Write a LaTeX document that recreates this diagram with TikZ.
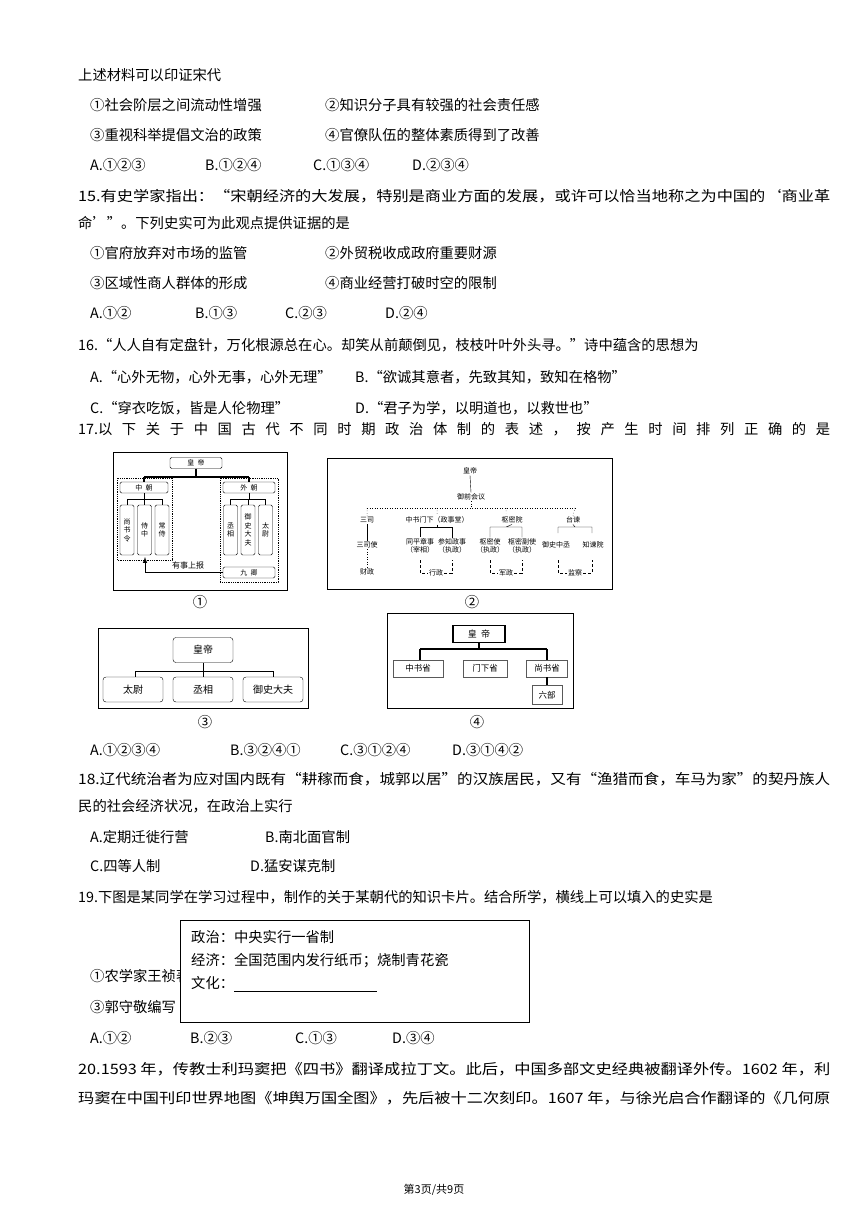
\documentclass[tikz,border=0pt]{standalone}
\usepackage{fontspec}
\usepackage{graphicx}
\setmainfont{Noto Sans CJK SC}
\newcommand{\fullline}[1]{\resizebox{752pt}{\height}{#1}}
\begin{document}
\begin{tikzpicture}[x=1pt,y=-1pt,
  txt/.style={anchor=base west,inner sep=0pt,font=\fontsize{14.3}{16}\selectfont},
  sm/.style={inner sep=1pt,font=\fontsize{7}{8}\selectfont,align=center},
  vb/.style={draw,rounded corners=1.5pt,minimum width=14pt,minimum height=50pt,inner sep=0pt,font=\fontsize{7}{8.5}\selectfont,align=center},
  hb/.style={draw,rounded corners=1.5pt,minimum width=48pt,minimum height=11pt,inner sep=0pt,font=\fontsize{7}{8}\selectfont},
  rb/.style={draw,rounded corners=3pt,minimum width=60pt,minimum height=25pt,inner sep=0pt,font=\fontsize{10}{12}\selectfont},
  sb/.style={draw,gray!70!black,minimum height=17pt,inner sep=2pt,font=\fontsize{8.5}{10}\selectfont,text=black},
  frame/.style={draw,line width=0.8pt},
  dotl/.style={dotted,line width=0.5pt},
  dashl/.style={densely dashed,line width=0.4pt}]
\useasboundingbox (0,0) rectangle (868,1227);
\fill[white] (0,0) rectangle (868,1227);
% text lines
\node[txt] (l1) at (78,80) {上述材料可以印证宋代};
\node[txt] (l2a) at (90,110) {①社会阶层之间流动性增强};
\node[txt] (l2b) at (325,110) {②知识分子具有较强的社会责任感};
\node[txt] (l3a) at (90,140) {③重视科举提倡文治的政策};
\node[txt] (l3b) at (325,140) {④官僚队伍的整体素质得到了改善};
\node[txt] (l4a) at (90,170) {A.①②③};
\node[txt] (l4b) at (205,170) {B.①②④};
\node[txt] (l4c) at (313,170) {C.①③④};
\node[txt] (l4d) at (412,170) {D.②③④};
\node[txt] (l5) at (78,201) {\fullline{15.有史学家指出：“宋朝经济的大发展，特别是商业方面的发展，或许可以恰当地称之为中国的‘商业革}};
\node[txt] (l6) at (78,228) {命’”。下列史实可为此观点提供证据的是};
\node[txt] (l7a) at (90,258) {①官府放弃对市场的监管};
\node[txt] (l7b) at (325,258) {②外贸税收成政府重要财源};
\node[txt] (l8a) at (90,288) {③区域性商人群体的形成};
\node[txt] (l8b) at (325,288) {④商业经营打破时空的限制};
\node[txt] (l9a) at (90,318) {A.①②};
\node[txt] (l9b) at (195,318) {B.①③};
\node[txt] (l9c) at (285,318) {C.②③};
\node[txt] (l9d) at (385,318) {D.②④};
\node[txt] (l10) at (78,350) {16.“人人自有定盘针，万化根源总在心。却笑从前颠倒见，枝枝叶叶外头寻。”诗中蕴含的思想为};
\node[txt] (l11a) at (90,382) {A.“心外无物，心外无事，心外无理”};
\node[txt] (l11b) at (355,382) {B.“欲诚其意者，先致其知，致知在格物”};
\node[txt] (l12a) at (90,413) {C.“穿衣吃饭，皆是人伦物理”};
\node[txt] (l12b) at (355,413) {D.“君子为学，以明道也，以救世也”};
\node[txt] (l13) at (78,434) {\makebox[752pt][s]{17.以 下 关 于 中 国 古 代 不 同 时 期 政 治 体 制 的 表 述 ， 按 产 生 时 间 排 列 正 确 的 是}};
% ---------- diagram 1
\draw[frame] (113,452) rectangle (287,590);
\node[hb,minimum width=52pt] (a0) at (196,463) {皇\ \ 帝};
\draw[densely dotted,line width=0.8pt] (117,478) rectangle (172,560);
\draw[densely dotted,line width=0.8pt] (220,478) rectangle (278,582);
\node[hb] (a1) at (144,487.5) {中\ \ 朝};
\node[hb,minimum width=52pt] (a2) at (249,487.5) {外\ \ 朝};
\draw[line width=1.5pt] (a0.south) -- (196,477) (144,477) -- (249,477) (144,477)--(a1.north) (249,477)--(a2.north);
\node[vb] (a11) at (127,530) {尚\\书\\令};
\node[vb] (a12) at (144.5,530) {侍\\中};
\node[vb] (a13) at (162,530) {常\\侍};
\node[vb] (a21) at (230.5,530) {丞\\相};
\node[vb] (a22) at (248,530) {御\\史\\大\\夫};
\node[vb] (a23) at (265.5,530) {太\\尉};
\draw[line width=0.4pt] (a1.south) -- (144,499) (127,499) -- (162,499) (127,499)--(a11.north) (144.5,499)--(a12.north) (162,499)--(a13.north);
\draw[line width=0.4pt] (a2.south) -- (249,499) (230.5,499) -- (265.5,499) (230.5,499)--(a21.north) (248,499)--(a22.north) (265.5,499)--(a23.north);
\node[hb,minimum width=52pt] (a3) at (249,572.5) {九\ \ 卿};
\draw[-latex,line width=1pt] (a3.west) -- (145,572.5) -- (145,557);
\node[sm,font=\fontsize{8}{9}\selectfont] (a4) at (188,565) {有事上报};
\node[txt,anchor=center] (c1) at (200,602) {①};
% ---------- diagram 2
\draw[line width=0.6pt] (327,458) rectangle (612,589);
\node[sm] (b0) at (470,471) {皇帝};
\node[sm] (b1) at (471,497) {御前会议};
\draw (b0.south) -- (b1.north);
\draw[dotl] (b1.south) -- (471,508) (367,508) -- (575,508);
\node[sm] (b2) at (367,520) {三司};
\node[sm] (b3) at (437,520) {中书门下（政事堂）};
\node[sm] (b4) at (512,520) {枢密院};
\node[sm] (b5) at (573,520) {台谏};
\draw[dotl] (367,508)--(b2.north) (437,508)--(b3.north) (506,508)--(506,513) (575,508)--(b5.north);
\node[sm] (b21) at (367,545) {三司使};
\node[sm] (b22) at (367,572) {财政};
\draw (b2.south) -- (b21.north);
\draw[dotl] (b21.south) -- (b22.north);
\node[sm] (b31) at (420,546) {同平章事\\（宰相）};
\node[sm] (b32) at (452,546) {参知政事\\（执政）};
\node[sm] (b41) at (490,546) {枢密使\\（执政）};
\node[sm] (b42) at (522,546) {枢密副使\\（执政）};
\node[sm] (b51) at (556,545) {御史中丞};
\node[sm] (b52) at (593,545) {知谏院};
\draw (b3.south) -- (437,527) (420,527) -- (452,527) (420,527)--(b31.north) (452,527)--(b32.north);
\draw (b4.south) -- (506,527) (490,527) -- (522,527) (490,527)--(b41.north) (522,527)--(b42.north);
\draw (b5.south) -- (575,527) (558,527) -- (592,527) (558,527)--(558,533) (592,527)--(592,533);
\node[sm] (b61) at (436,573) {行政};
\node[sm] (b62) at (506,573) {军政};
\node[sm] (b63) at (575,573) {监察};
\draw[dashl] (420,560) -- (420,573) -- (b61.west) (b61.east) -- (452,573) -- (452,560);
\draw[dashl] (490,560) -- (490,573) -- (b62.west) (b62.east) -- (522,573) -- (522,560);
\draw[dashl] (558,560) -- (558,573) -- (b63.west) (b63.east) -- (592,573) -- (592,560);
\node[txt,anchor=center] (c2) at (472,602) {②};
% ---------- diagram 3
\draw[line width=0.8pt] (98,628) rectangle (308,708);
\node[rb] (d0) at (203,650) {皇帝};
\node[rb] (d1) at (133,689.5) {太尉};
\node[rb] (d2) at (203,689.5) {丞相};
\node[rb] (d3) at (273,689.5) {御史大夫};
\draw (d0.south) -- (203,671) (135,671) -- (273,671) (135,671)--(135,677) (d2.north)--(203,671) (273,671)--(d3.north);
\node[txt,anchor=center] (c3) at (205,722) {③};
% ---------- diagram 4
\draw[line width=0.8pt] (387,613) rectangle (573,708);
\node[draw,line width=1.2pt,minimum width=52pt,minimum height=17pt,inner sep=0pt,font=\fontsize{9}{10}\selectfont] (e0) at (479,634) {皇\ \ 帝};
\node[sb,minimum width=50pt] (e1) at (418,668.5) {中书省};
\node[sb,minimum width=44pt] (e2) at (485,668.5) {门下省};
\node[sb,minimum width=41pt] (e3) at (547,668.5) {尚书省};
\node[sb,minimum width=30pt,minimum height=19pt] (e4) at (547,695) {六部};
\draw[line width=1.2pt] (e0.south) -- (479,649) (420,649) -- (547,649) (420,649)--(420,660) (547,649)--(e3.north);
\draw[line width=1.2pt] (e3.south) -- (e4.north);
\node[txt,anchor=center] (c4) at (477,722) {④};
% answers 17
\node[txt] (l14a) at (90,755) {A.①②③④};
\node[txt] (l14b) at (230,755) {B.③②④①};
\node[txt] (l14c) at (340,755) {C.③①②④};
\node[txt] (l14d) at (452,755) {D.③①④②};
\node[txt] (l15) at (78,784) {\fullline{18.辽代统治者为应对国内既有“耕稼而食，城郭以居”的汉族居民，又有“渔猎而食，车马为家”的契丹族人}};
\node[txt] (l16) at (78,811) {民的社会经济状况，在政治上实行};
\node[txt] (l17a) at (90,842) {A.定期迁徙行营};
\node[txt] (l17b) at (265,842) {B.南北面官制};
\node[txt] (l18a) at (90,871) {C.四等人制};
\node[txt] (l18b) at (250,871) {D.猛安谋克制};
\node[txt] (l19) at (78,902) {19.下图是某同学在学习过程中，制作的关于某朝代的知识卡片。结合所学，横线上可以填入的史实是};
\node[txt] (l20) at (90,981) {①农学家王祯著};
\node[txt] (l21) at (90,1012) {③郭守敬编写};
\node[draw,fill=white,line width=0.6pt,minimum width=349pt,minimum height=102pt,inner sep=0pt] (card) at (354.5,971) {};
\node[txt] (k1) at (191,942) {政治：中央实行一省制};
\node[txt] (k2) at (191,965) {经济：全国范围内发行纸币；烧制青花瓷};
\node[txt] (k3) at (191,988) {文化：};
\draw[line width=0.4pt] (k3.base east) ++(0,3) coordinate (u0) -- ++(143,0) coordinate (u1);
\node[txt] (l22a) at (90,1043) {A.①②};
\node[txt] (l22b) at (190,1043) {B.②③};
\node[txt] (l22c) at (295,1043) {C.①③};
\node[txt] (l22d) at (392,1043) {D.③④};
\node[txt] (l23) at (78,1074) {\fullline{20.1593 年，传教士利玛窦把《四书》翻译成拉丁文。此后，中国多部文史经典被翻译外传。1602 年，利}};
\node[txt] (l24) at (78,1103) {\fullline{玛窦在中国刊印世界地图《坤舆万国全图》，先后被十二次刻印。1607 年，与徐光启合作翻译的《几何原}};
\node[font=\fontsize{11}{12}\selectfont,inner sep=0pt] (pg) at (434,1190) {第3页/共9页};
\end{tikzpicture}
\end{document}
